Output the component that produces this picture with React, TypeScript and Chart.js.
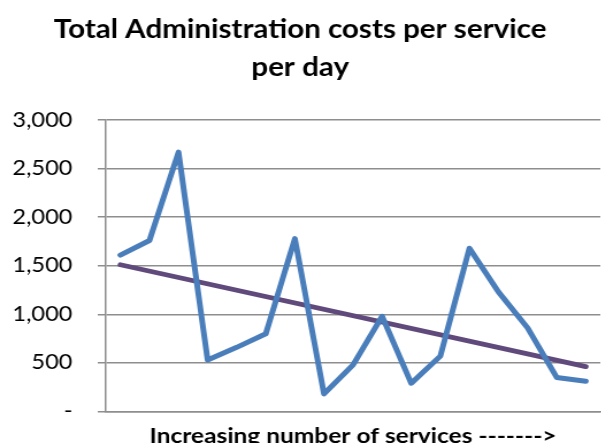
import React, { useEffect, useRef } from "react";
import { Chart, registerables } from "chart.js";

Chart.register(...registerables);

const categories = ["1","2","3","4","5","6","7","8","9","10","11","12","13","14","15","16","17"];
const costValues = [1610, 1760, 2670, 530, 660, 800, 1780, 180, 480, 980, 290, 570, 1680, 1230, 860, 350, 310];
const trendValues: (number | null)[] = [1510, null, null, null, null, null, null, null, null, null, null, null, null, null, null, null, 462];
const yTicks = [0, 500, 1000, 1500, 2000, 2500, 3000];

const FONT = "Lato, 'Open Sans', sans-serif";
const STRETCH = 1.15;
const W = Math.round(601 / STRETCH);

export default function App() {
  const ref = useRef<HTMLCanvasElement | null>(null);
  useEffect(() => {
    document.body.style.margin = "0";
    const ctx = ref.current!;
    const chart = new Chart(ctx, {
      type: "line",
      data: {
        labels: categories,
        datasets: [
          {
            label: "Cost",
            data: costValues,
            borderColor: "#4A7EBB",
            borderWidth: 5,
            pointRadius: 0,
            tension: 0,
            borderJoinStyle: "round",
            borderCapStyle: "round",
          },
          {
            label: "Trend",
            data: trendValues,
            borderColor: "#604A7B",
            borderWidth: 4.8,
            pointRadius: 0,
            spanGaps: true,
            borderCapStyle: "round",
          },
        ],
      },
      options: {
        animation: false,
        responsive: false,
        devicePixelRatio: 1,
        layout: { padding: { left: 0, right: 1, top: 0, bottom: 0 } },
        plugins: {
          legend: { display: false },
          tooltip: { enabled: false },
          title: {
            display: true,
            text: ["Total Administration costs per service", "per day"],
            color: "#000",
            font: { family: FONT, size: 25.7, weight: "bold", lineHeight: 1.48 },
            padding: { top: 11, bottom: 33 },
          },
        },
        scales: {
          x: {
            offset: true,
            grid: { display: false },
            border: { display: true, color: "#8e8e8e", width: 1.5 },
            ticks: { display: false },
            title: {
              display: true,
              text: "Increasing number of services ------->",
              color: "#000",
              font: { family: FONT, size: 21.3, weight: "bold" },
              padding: { top: 4, bottom: 0 },
            },
          },
          y: {
            min: 0,
            max: 3000,
            afterBuildTicks: (axis: any) => {
              axis.ticks = yTicks.map((v) => ({ value: v }));
            },
            afterFit: (axis: any) => {
              axis.width = 92;
            },
            grid: { color: "#8e8e8e", lineWidth: 1.5, tickLength: 7, drawTicks: true },
            border: { display: true, color: "#8e8e8e", width: 1.5 },
            ticks: {
              color: "#000",
              padding: 22,
              font: { family: FONT, size: 20.5 },
              callback: (v: any) => (Number(v) === 0 ? "-" : Number(v).toLocaleString("en-US")),
            },
          },
        },
      },
    });
    return () => chart.destroy();
  }, []);
  return (
    <div style={{ width: 601, height: 443, overflow: "hidden" }}>
      <canvas
        ref={ref}
        width={W}
        height={449}
        style={{
          display: "block",
          width: W,
          height: 449,
          transform: `scaleX(${STRETCH})`,
          transformOrigin: "0 0",
        }}
      />
    </div>
  );
}
